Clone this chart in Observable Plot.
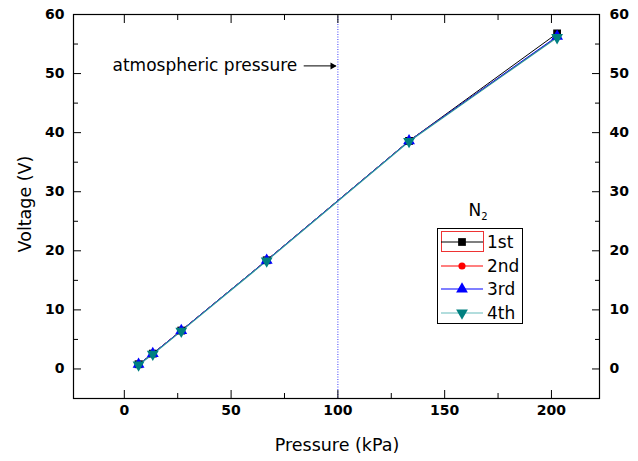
<!DOCTYPE html>
<html><head><meta charset="utf-8">
<script src="https://cdn.jsdelivr.net/npm/d3@7"></script>
<script src="https://cdn.jsdelivr.net/npm/@observablehq/plot@0.6"></script>
<style>
body{margin:0;background:#fff;}
#chart{position:relative;width:638px;height:461px;}
</style></head>
<body><div id="chart"></div>
<script>
const pressure = [6.67, 13.33, 26.66, 66.66, 133.32, 202.65];
const v1st = [0.8, 2.6, 6.5, 18.4, 38.6, 56.8];
const v2nd = [0.8, 2.6, 6.5, 18.4, 38.6, 56.2];
const v3rd = [0.8, 2.6, 6.5, 18.4, 38.6, 56.3];
const v4th = [0.7, 2.5, 6.4, 18.3, 38.5, 56.1];
const seriesNames = ["1st", "2nd", "3rd", "4th"];
const seriesValues = [v1st, v2nd, v3rd, v4th];
const lineColors = ["#000000", "#ff0000", "#0000ff", "#2f9c9c"];
const markColors = ["#000000", "#ff0000", "#0000ff", "#008080"];
const symbols = ["square", "circle", "triangle", "triangle"];
const rotations = [0, 0, 0, 180];
const xMajor = [0, 50, 100, 150, 200];
const xMinor = [25, 75, 125, 175];
const yMajor = [0, 10, 20, 30, 40, 50, 60];
const yMinor = [5, 15, 25, 35, 45, 55];
const atmPressure = 100;
const annotation = "atmospheric pressure";
const annot = {x: 81, y: 51.3};
const FONT = '"DejaVu Sans", Verdana, sans-serif';

const rows = seriesNames.map((s, i) => pressure.map((p, j) => ({series: s, i, x: p, y: seriesValues[i][j]})));

const marks = [];
marks.push(Plot.ruleX([atmPressure], {stroke: "#3b3bff", strokeDasharray: "1,1.5", strokeWidth: 1}));
rows.forEach((r, i) => {
  marks.push(Plot.line(r, {x: "x", y: "y", stroke: lineColors[i], strokeWidth: i === 3 ? 1.2 : 1}));
});
rows.forEach((r, i) => {
  marks.push(Plot.dot(r, {x: "x", y: "y", symbol: () => symbols[i], fill: markColors[i], stroke: "none", r: i === 1 ? 3.6 : 4.4, rotate: rotations[i]}));
});
marks.push(Plot.text([annot], {x: "x", y: "y", text: () => annotation, textAnchor: "end", fontSize: 17, fill: "#000"}));
marks.push(Plot.link([annot], {x1: d => d.x + 3, x2: atmPressure - 1, y1: "y", y2: "y", stroke: "#000", strokeWidth: 1}));
marks.push(Plot.dot([annot], {x: atmPressure - 2.5, y: "y", symbol: "triangle", rotate: 90, r: 2.6, fill: "#000"}));
// axes
const tickFont = {fontSize: 14, fontWeight: "bold"};
marks.push(Plot.axisX(xMajor, {anchor: "bottom", tickSize: -8, tickPadding: 15, label: null, ...tickFont}));
marks.push(Plot.axisX(xMinor, {anchor: "bottom", tickSize: -5, text: null, label: null}));
marks.push(Plot.axisX(xMajor, {anchor: "top", tickSize: -8, text: null, label: null}));
marks.push(Plot.axisX(xMinor, {anchor: "top", tickSize: -5, text: null, label: null}));
marks.push(Plot.axisY(yMajor, {anchor: "left", tickSize: -8, tickPadding: 17, label: null, ...tickFont}));
marks.push(Plot.axisY(yMinor, {anchor: "left", tickSize: -5, text: null, label: null}));
marks.push(Plot.axisY(yMajor, {anchor: "right", tickSize: -8, tickPadding: 18, label: null, ...tickFont}));
marks.push(Plot.axisY(yMinor, {anchor: "right", tickSize: -5, text: null, label: null}));
marks.push(Plot.frame({stroke: "#000", strokeWidth: 1.2}));

const plot = Plot.plot({
  width: 638, height: 461,
  marginLeft: 73, marginRight: 39, marginTop: 14, marginBottom: 63,
  x: {domain: [-23.8, 222.5]},
  y: {domain: [-5, 60]},
  style: {fontFamily: FONT, color: "#000", background: "#fff"},
  marks
});
document.getElementById("chart").appendChild(plot);

const svg = d3.select(plot);
// axis titles
svg.append("text").attr("x", 337).attr("y", 451).attr("text-anchor", "middle")
  .attr("font-size", 17.5).attr("fill", "#000").text("Pressure (kPa)");
svg.append("text").attr("transform", "translate(31,204) rotate(-90)").attr("text-anchor", "middle")
  .attr("font-size", 17.5).attr("fill", "#000").text("Voltage (V)");

// legend
const lg = svg.append("g");
const t = lg.append("text").attr("x", 478).attr("y", 216).attr("text-anchor", "middle").attr("font-size", 17).attr("fill", "#000");
t.append("tspan").text("N");
t.append("tspan").attr("font-size", 10).attr("dy", 4).text("2");
lg.append("rect").attr("x", 437.5).attr("y", 228.5).attr("width", 85).attr("height", 95).attr("fill", "#fff").attr("stroke", "#000").attr("stroke-width", 1);
const rowY = [242, 266, 289, 313];
const symDraw = {square: d3.symbolSquare, circle: d3.symbolCircle, triangle: d3.symbolTriangle};
seriesNames.forEach((s, i) => {
  const y = rowY[i];
  if (i === 0) lg.append("rect").attr("x", 441.5).attr("y", y - 10.5).attr("width", 42).attr("height", 20).attr("fill", "none").attr("stroke", "#ee3333").attr("stroke-width", 1);
  lg.append("line").attr("x1", 441).attr("x2", 483).attr("y1", y).attr("y2", y).attr("stroke", i === 3 ? "#66bcbc" : lineColors[i]).attr("stroke-width", 1.2);
  const sz = i === 1 ? 40 : 60;
  lg.append("path").attr("d", d3.symbol(symDraw[symbols[i]], sz)())
    .attr("transform", `translate(462,${y}) rotate(${rotations[i]})`).attr("fill", markColors[i]);
  lg.append("text").attr("x", 487).attr("y", y).attr("dy", "0.36em").attr("text-anchor", "start").attr("font-size", 17).attr("fill", "#000").text(s);
});
</script></body></html>
